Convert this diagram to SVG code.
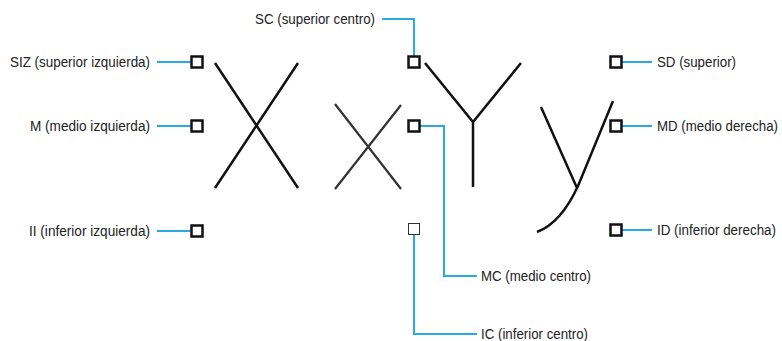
<svg xmlns="http://www.w3.org/2000/svg" width="782" height="341" viewBox="0 0 782 341">
<style>
.t{font-family:"Liberation Sans",Arial,sans-serif;font-size:14px;fill:#222}
.e{text-anchor:end}
.sq{fill:#fff;stroke:#111;stroke-width:2.5}
.sq2{fill:#fff;stroke:#333;stroke-width:1}
.c{fill:none;stroke:#29abe2;stroke-width:2}
.g{fill:none;stroke:#111;stroke-width:2.5}
.g2{fill:none;stroke:#333;stroke-width:2.2}
</style>
<rect width="782" height="341" fill="#fff"/>
<g id="glyphs">
<path class="g" d="M215,63 L298,188 M298,63 L215,188"/>
<path class="g2" d="M335,104 L401,189 M401,105 L335,189"/>
<path class="g" d="M425,63 L473,122 L521,63 M473,122 L473,187"/>
<path class="g" d="M541,107 L577,188 M613,101 L578,186 C566,212 553,226 537,232"/>
</g>
<g id="connectors">
<path class="c" d="M157,62 H191"/>
<path class="c" d="M157,126 H191"/>
<path class="c" d="M157,231 H191"/>
<path class="c" d="M382,19 H414 V56"/>
<path class="c" d="M420,126 H444 V276 H477"/>
<path class="c" d="M414,235 V334 H477"/>
<path class="c" d="M622,62 H652"/>
<path class="c" d="M622,126 H652"/>
<path class="c" d="M622,230 H652"/>
</g>
<g id="SIZ"><rect class="sq" x="191.5" y="56.5" width="11" height="11"/><text class="t" x="10" y="67" textLength="140" lengthAdjust="spacingAndGlyphs">SIZ (superior izquierda)</text></g>
<g id="M"><rect class="sq" x="191.5" y="120.5" width="11" height="11"/><text class="t" x="30" y="131" textLength="120" lengthAdjust="spacingAndGlyphs">M (medio izquierda)</text></g>
<g id="II"><rect class="sq" x="191.5" y="225.5" width="11" height="11"/><text class="t" x="29" y="236" textLength="121" lengthAdjust="spacingAndGlyphs">II (inferior izquierda)</text></g>
<g id="SC"><rect class="sq" x="408.5" y="56.5" width="11" height="11"/><text class="t" x="255" y="24" textLength="120" lengthAdjust="spacingAndGlyphs">SC (superior centro)</text></g>
<g id="MC"><rect class="sq" x="408.5" y="120.5" width="11" height="11"/><text class="t" x="481" y="281" textLength="110" lengthAdjust="spacingAndGlyphs">MC (medio centro)</text></g>
<g id="IC"><rect class="sq2" x="408.5" y="223.5" width="11" height="11"/><text class="t" x="481" y="339" textLength="107" lengthAdjust="spacingAndGlyphs">IC (inferior centro)</text></g>
<g id="SD"><rect class="sq" x="610.5" y="56.5" width="11" height="11"/><text class="t" x="657" y="67" textLength="79" lengthAdjust="spacingAndGlyphs">SD (superior)</text></g>
<g id="MD"><rect class="sq" x="610.5" y="120.5" width="11" height="11"/><text class="t" x="657" y="131" textLength="121" lengthAdjust="spacingAndGlyphs">MD (medio derecha)</text></g>
<g id="ID"><rect class="sq" x="610.5" y="224.5" width="11" height="11"/><text class="t" x="657" y="235" textLength="119" lengthAdjust="spacingAndGlyphs">ID (inferior derecha)</text></g>
</svg>
